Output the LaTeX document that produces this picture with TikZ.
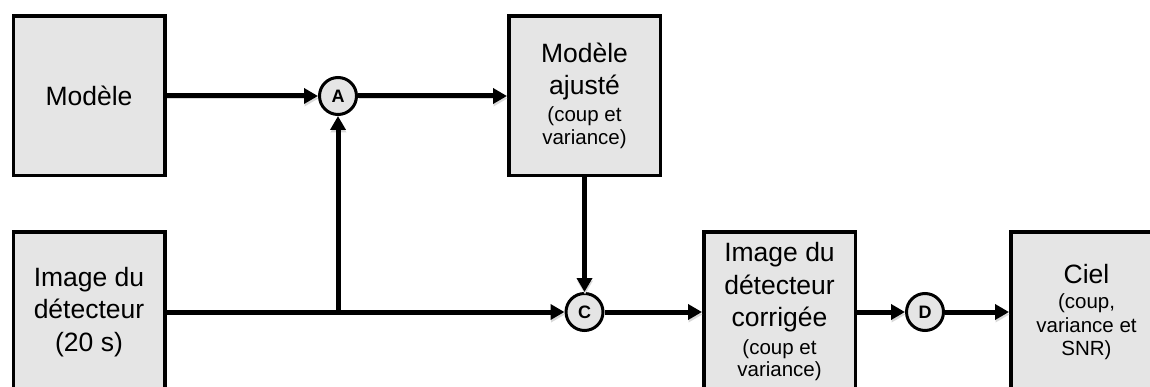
\documentclass[tikz,border=0pt]{standalone}
\usepackage{fontspec}
\setmainfont{Liberation Sans}
\usetikzlibrary{arrows.meta}
\newcommand{\bigtxt}{\fontsize{26.5}{32.5}\selectfont}
\newcommand{\smalltxt}{\fontsize{20.5}{23.5}\selectfont}
\tikzset{
    % Process boxes
    procbox/.style={rectangle, draw=black, fill=gray!20, line width=3.5pt,
                minimum width=151.5pt, minimum height=159.5pt, align=center,
                inner sep=0pt, font=\bigtxt},
    % Operator circles
    opnode/.style={circle, draw=black, fill=gray!20, line width=3pt,
                minimum size=37pt, inner sep=0pt,
                font=\fontsize{18}{18}\selectfont\bfseries},
    % Data flow
    flow/.style={-{Triangle[length=14pt, width=15pt]}, line width=5pt,
                preaction={draw=black!15, transform canvas={xshift=0.5pt, yshift=-2.5pt}}},
}
\begin{document}
\begin{tikzpicture}[x=1pt, y=-1pt]
\useasboundingbox (0,0) rectangle (1150,387);
\clip (0,0) rectangle (1150,387);

\node[procbox] (model)  at (89,96)     {Modèle};
\node[procbox] (fitted) at (584.5,96)  {Modèle\\ajusté\\[-6pt]\smalltxt (coup et\\[-9pt]\smalltxt variance)};
\node[procbox] (raw)    at (89,312)    {Image du\\détecteur\\(20 s)};
\node[procbox] (corr)   at (779.5,312) {Image du\\détecteur\\corrigée\\[-5pt]\smalltxt (coup et\\[-10pt]\smalltxt variance)};
\node[procbox] (sky)    at (1086.5,312) {Ciel\\[-7pt]\smalltxt (coup,\\[-9pt]\smalltxt variance et\\[-9pt]\smalltxt SNR)};

\node[opnode] (A) at (338,96)    {A};
\node[opnode] (C) at (584.5,312) {C};
\node[opnode] (D) at (925,312)   {D};
\coordinate (split) at (338,312);

\draw[flow] (model) -- (A);
\draw[flow] (A) -- (fitted);
\draw[flow] (split) -- (A);
\draw[flow] (raw) -- (C);
\draw[flow] (fitted) -- (C);
\draw[flow] (C) -- (corr);
\draw[flow] (corr) -- (D);
\draw[flow] (D) -- (sky);
\end{tikzpicture}
\end{document}
